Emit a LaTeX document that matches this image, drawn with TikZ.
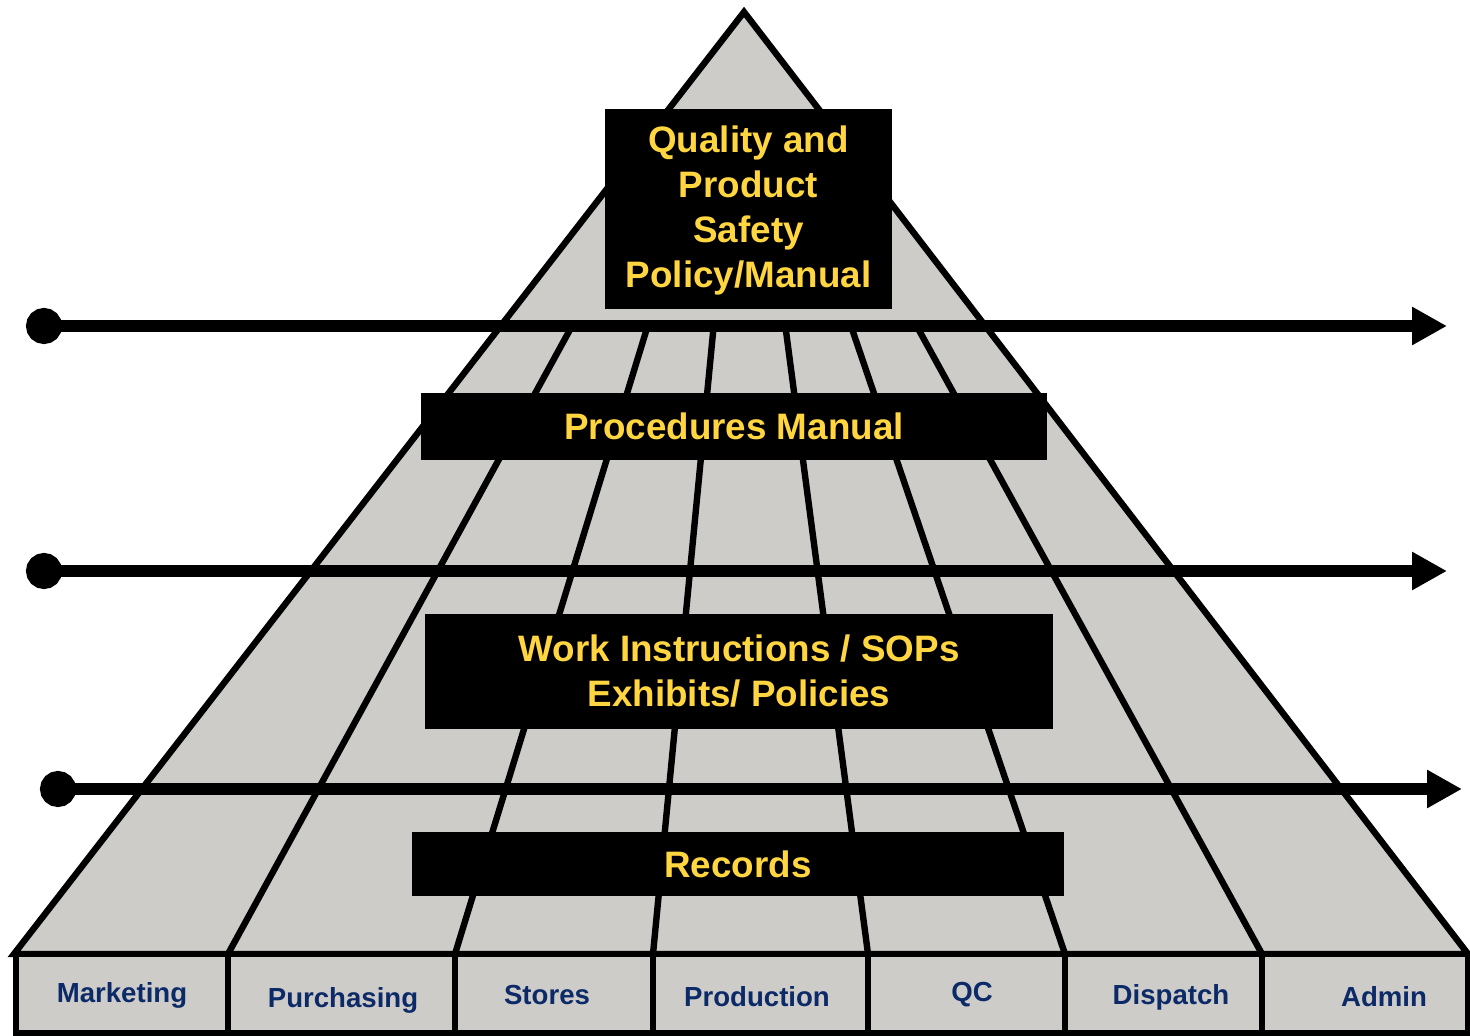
\documentclass[tikz,border=0pt]{standalone}
\usepackage{fontspec}
\setmainfont{Liberation Sans}
\usetikzlibrary{arrows.meta}
\definecolor{pyrgray}{RGB}{205,204,200}
\definecolor{deptblue}{RGB}{12,42,104}
\definecolor{gold}{RGB}{255,214,64}

\begin{document}
\begin{tikzpicture}[x=0.5pt,y=-0.5pt,
    banner/.style={fill=black,text=gold,align=center,inner sep=0pt,
      font=\bfseries\fontsize{18.4}{22.5}\selectfont},
    cell/.style={draw,fill=pyrgray,line width=3.2pt},
    dept/.style={text=deptblue,font=\bfseries\fontsize{13.8}{16}\selectfont},
    flow/.style={line width=5.6pt,{Circle[length=18pt]}-{Triangle[length=17.5pt,width=18pt]}}]

      \useasboundingbox (0,0) rectangle (1470,1036);

      \coordinate (apex) at (744,12);
      \coordinate (bl)   at (14,954);
      \coordinate (br)   at (1468,954);

      \fill[pyrgray] (apex) -- (bl) -- (br) -- cycle;

      \begin{scope}
        \clip (0,326) rectangle (1470,954);
        \foreach \x [count=\i] in {228,455,653,868,1065,1262} {
          \coordinate (b\i) at (\x,954);
          \draw[line width=3.2pt] (apex) -- (b\i);
        }
      \end{scope}

      \draw[line width=3.2pt,line join=miter] (apex) -- (bl) -- (br) -- cycle;

      \foreach \a/\b/\tx/\ty/\n/\t in {16/228/122/995/mkt/Marketing,
          228/455/343/1000/pur/Purchasing, 455/653/547/995/sto/Stores,
          653/868/757/997/prod/Production, 868/1065/972/995/qc/QC,
          1065/1262/1171/997/dis/Dispatch, 1262/1468/1384/997/adm/Admin} {
        \draw[cell] (\a,954) rectangle (\b,1033);
        \node[dept] (\n) at (\tx,\ty) {\t};
      }

      \begin{scope}[every node/.style={banner}]
        \node[minimum width=143.5pt,minimum height=100pt] (policy) at (748.5,209)
          {\rule{0pt}{15pt}Quality and\\Product\\Safety\\Policy/Manual};
        \node[minimum width=313pt,minimum height=33.5pt] (proc) at (734,426.5)
          {Procedures Manual};
        \node[minimum width=314pt,minimum height=57.5pt] (work) at (739,671.5)
          {Work Instructions / SOPs\\Exhibits/ Policies};
        \node[minimum width=326pt,minimum height=32pt] (rec) at (738,864)
          {Records};
      \end{scope}

      \coordinate (s1) at (26,326);
      \coordinate (e1) at (1447,326);
      \coordinate (s2) at (26,571);
      \coordinate (e2) at (1447,571);
      \coordinate (s3) at (40,789);
      \coordinate (e3) at (1462,789);

      \draw[flow] (s1) -- (e1);
      \draw[flow] (s2) -- (e2);
      \draw[flow] (s3) -- (e3);

    \end{tikzpicture}
\end{document}
